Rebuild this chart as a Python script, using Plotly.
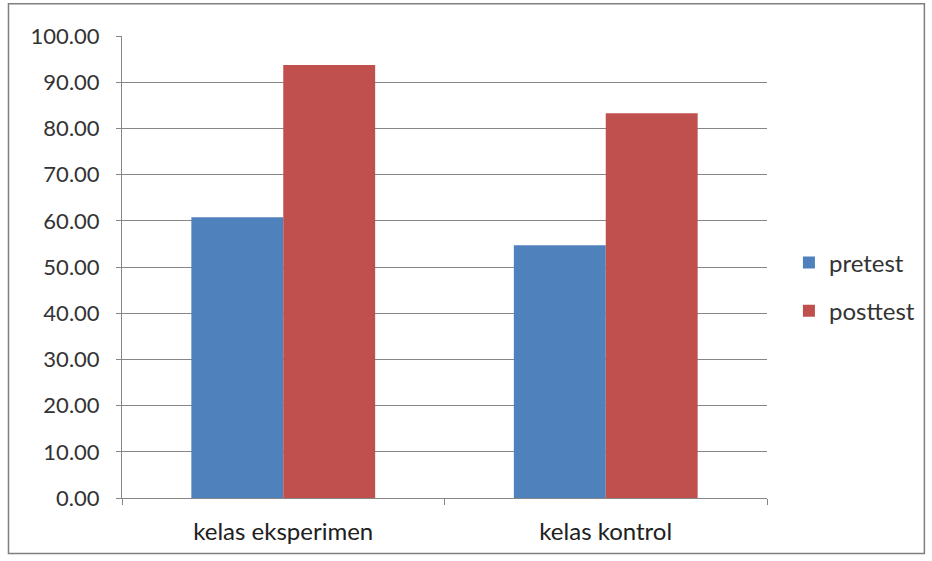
import plotly.graph_objects as go

categories = ["kelas eksperimen", "kelas kontrol"]
pretest = [60.75, 54.7]
posttest = [93.7, 83.3]
tick_vals = [0, 10, 20, 30, 40, 50, 60, 70, 80, 90, 100]
tick_text = ["%.2f" % v for v in tick_vals]

font_family = "Lato, 'Open Sans', sans-serif"
text_color = "#333333"

fig = go.Figure()
fig.add_trace(go.Bar(name="pretest", x=categories, y=pretest,
                     marker=dict(color="#4F81BD", line=dict(width=0)),
                     legendgroup="a"))
fig.add_trace(go.Bar(name="posttest", x=categories, y=posttest,
                     marker=dict(color="#C0504D", line=dict(width=0)),
                     legendgroup="b"))

fig.update_layout(
    width=932, height=561,
    margin=dict(l=122, r=162, t=36, b=63),
    paper_bgcolor="white", plot_bgcolor="white",
    barmode="group", bargap=0.43, bargroupgap=0,
    font=dict(family=font_family, size=21, color=text_color),
    legend=dict(x=1.034, y=0.457, xanchor="left", yanchor="middle",
                font=dict(size=24, color=text_color),
                tracegroupgap=14, itemwidth=30,
                bgcolor="rgba(0,0,0,0)"),
    xaxis=dict(showline=True, linecolor="#868686", linewidth=1,
               ticks="outside", tickson="boundaries", ticklen=6,
               tickcolor="#868686", showgrid=False,
               ticklabelstandoff=12,
               tickfont=dict(size=24, color="#202020")),
    yaxis=dict(range=[0, 100], tickvals=tick_vals, ticktext=tick_text,
               showline=True, linecolor="#868686", linewidth=1,
               ticks="outside", ticklen=5, tickcolor="#868686",
               showgrid=True, gridcolor="#868686", gridwidth=1,
               ticklabelstandoff=12,
               zeroline=False, tickfont=dict(size=22, color=text_color)),
    shapes=[dict(type="rect", xref="paper", yref="paper",
                 x0=-0.176, x1=1.244, y0=-0.12, y1=1.07,
                 line=dict(color="#7F7F7F", width=1.5))],
)

fig.write_html("out.html")
